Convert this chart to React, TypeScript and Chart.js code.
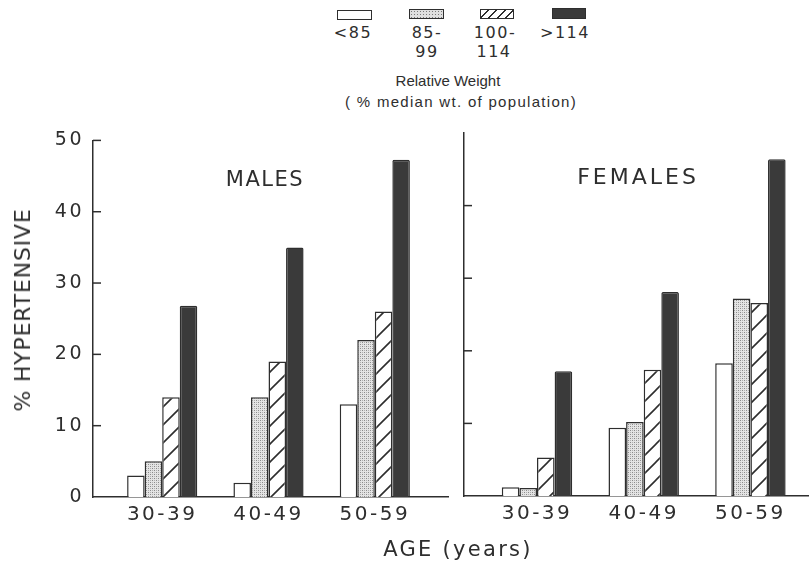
import React, { useEffect, useRef } from "react";
import { Chart, registerables } from "chart.js";

Chart.register(...registerables);

// ---- data ----
const ageGroups = ["30-39", "40-49", "50-59"];
const weightGroups = ["<85", "85-99", "100-114", ">114"];
const maleUnder85 = [3, 2, 13];
const male85to99 = [5, 14, 22];
const male100to114 = [14, 19, 26];
const maleOver114 = [26.8, 35, 47.3];
const femaleUnder85 = [1.2, 9.4, 18.3];
const female85to99 = [1.1, 10.2, 27.2];
const female100to114 = [5.3, 17.4, 26.6];
const femaleOver114 = [17.2, 28.1, 46.4];
const yMin = 0;
const yMax = 50;
const yStep = 10;

const INK = "#2e2e2e";
const DARK = "#3a3a3a";

function makeStipple(): CanvasPattern | string {
  const c = document.createElement("canvas");
  c.width = 4;
  c.height = 4;
  const g = c.getContext("2d");
  if (!g) return "#cccccc";
  g.fillStyle = "#e4e4e4";
  g.fillRect(0, 0, 4, 4);
  g.fillStyle = "#8a8a8a";
  g.fillRect(0, 0, 1, 1);
  g.fillRect(2, 2, 1, 1);
  g.fillStyle = "#b0b0b0";
  g.fillRect(2, 0, 1, 1);
  g.fillRect(0, 2, 1, 1);
  return g.createPattern(c, "repeat") || "#cccccc";
}

function makeHatch(): CanvasPattern | string {
  const s = 18;
  const c = document.createElement("canvas");
  c.width = s;
  c.height = s;
  const g = c.getContext("2d");
  if (!g) return "#ffffff";
  g.fillStyle = "#ffffff";
  g.fillRect(0, 0, s, s);
  g.strokeStyle = INK;
  g.lineWidth = 1.6;
  g.beginPath();
  g.moveTo(0, s);
  g.lineTo(s, 0);
  g.moveTo(-2, 2);
  g.lineTo(2, -2);
  g.moveTo(s - 2, s + 2);
  g.lineTo(s + 2, s - 2);
  g.stroke();
  return g.createPattern(c, "repeat") || "#ffffff";
}

const spacingPlugin = {
  id: "spacing",
  beforeDraw(chart: any) {
    (chart.ctx as any).letterSpacing = "2.5px";
  },
};

const innerTicks = {
  id: "innerTicks",
  afterDraw(chart: any, _args: any, opts: any) {
    const y = chart.scales.y;
    const left = chart.chartArea.left;
    const ctx = chart.ctx;
    ctx.save();
    ctx.strokeStyle = INK;
    ctx.lineWidth = 1.5;
    y.ticks.forEach((t: any) => {
      if (t.value === yMin) return;
      if (opts && opts.skip && opts.skip.includes(t.value)) return;
      const py = y.getPixelForValue(t.value);
      ctx.beginPath();
      ctx.moveTo(left, py);
      ctx.lineTo(left + 8, py);
      ctx.stroke();
    });
    ctx.restore();
  },
};

function buildConfig(
  series: number[][],
  fills: any[],
  xMin: number,
  xMax: number,
  yWidth: number,
  xHeight: number,
  showYLabels: boolean,
  skip: number[]
): any {
  return {
    type: "bar",
    data: {
      datasets: series.map((vals, k) => ({
        label: weightGroups[k],
        data: vals.map((v, i) => ({ x: i + 1, y: v })),
        backgroundColor: fills[k],
        borderColor: INK,
        borderWidth: 1.5,
        borderSkipped: "bottom",
        borderRadius: k === 3 ? 1.5 : 0,
        categoryPercentage: 0.66,
        barPercentage: 1,
      })),
    },
    options: {
      animation: false,
      responsive: true,
      maintainAspectRatio: false,
      events: [],
      layout: { padding: { top: 13, left: 0, right: 0, bottom: 0 } },
      plugins: {
        legend: { display: false },
        tooltip: { enabled: false },
        innerTicks: { skip },
      },
      scales: {
        x: {
          type: "linear",
          min: xMin,
          max: xMax,
          bounds: "data",
          offset: false,
          grid: { display: false, drawTicks: false, offset: false },
          border: { display: true, color: INK, width: 1.5 },
          afterBuildTicks: (s: any) => {
            s.ticks = ageGroups.map((_, i) => ({ value: i + 1 }));
          },
          afterFit: (s: any) => {
            s.height = xHeight;
          },
          ticks: {
            autoSkip: false,
            maxRotation: 0,
            minRotation: 0,
            padding: 6,
            color: INK,
            font: { family: "DejaVu Sans", size: 20 },
            callback: (_v: any, i: number) => ageGroups[i],
          },
        },
        y: {
          min: yMin,
          max: yMax,
          grid: { display: false, drawTicks: false },
          border: { display: true, color: INK, width: 1.5 },
          afterFit: (s: any) => {
            s.width = yWidth;
          },
          ticks: {
            display: showYLabels,
            stepSize: yStep,
            padding: 9,
            color: INK,
            font: { family: "DejaVu Sans", size: 19 },
          },
        },
      },
    },
    plugins: [spacingPlugin, innerTicks],
  };
}

function Txt(props: {
  x: number;
  y: number;
  size: number;
  family?: string;
  spacing?: number;
  rotate?: boolean;
  children: React.ReactNode;
}) {
  const { x, y, size, family, spacing, rotate, children } = props;
  return (
    <div
      style={{
        position: "absolute",
        left: x,
        top: y,
        transform: `translate(-50%, -50%)${rotate ? " rotate(-90deg)" : ""}`,
        fontSize: size,
        fontFamily: family || "'DejaVu Sans'",
        letterSpacing: spacing ? `${spacing}px` : undefined,
        whiteSpace: "nowrap",
        lineHeight: 1,
        color: INK,
      }}
    >
      {children}
    </div>
  );
}

const boxBase: React.CSSProperties = {
  position: "absolute",
  boxSizing: "border-box",
  border: `1.5px solid ${INK}`,
  height: 10,
  width: 35,
};

export default function App() {
  const leftRef = useRef<HTMLCanvasElement>(null);
  const rightRef = useRef<HTMLCanvasElement>(null);

  useEffect(() => {
    const fills = ["#ffffff", makeStipple(), makeHatch(), DARK];
    const left = new Chart(
      leftRef.current as HTMLCanvasElement,
      buildConfig(
        [maleUnder85, male85to99, male100to114, maleOver114],
        fills,
        0.349,
        3.698,
        93,
        43,
        true,
        []
      )
    );
    const right = new Chart(
      rightRef.current as HTMLCanvasElement,
      buildConfig(
        [femaleUnder85, female85to99, female100to114, femaleOver114],
        fills,
        0.316,
        3.549,
        24,
        44,
        false,
        [50]
      )
    );
    return () => {
      left.destroy();
      right.destroy();
    };
  }, []);

  return (
    <div
      style={{
        position: "absolute",
        left: 0,
        top: 0,
        width: 809,
        height: 563,
        background: "#ffffff",
        overflow: "hidden",
      }}
    >
      <div style={{ position: "absolute", left: 0, top: 120, width: 449, height: 420 }}>
        <canvas ref={leftRef} />
      </div>
      <div style={{ position: "absolute", left: 440, top: 120, width: 369, height: 420 }}>
        <canvas ref={rightRef} />
      </div>

      {/* legend */}
      <div style={{ ...boxBase, left: 337, top: 10, background: "#ffffff" }} />
      <div
        style={{
          ...boxBase,
          left: 409,
          top: 9,
          backgroundColor: "#e0e0e0",
          backgroundImage: "radial-gradient(#7a7a7a 0.7px, transparent 0.9px)",
          backgroundSize: "3px 3px",
        }}
      />
      <div
        style={{
          ...boxBase,
          left: 480,
          top: 9,
          width: 34,
          backgroundImage: `repeating-linear-gradient(135deg, #ffffff 0px, #ffffff 4.5px, ${INK} 4.5px, ${INK} 6px)`,
        }}
      />
      <div style={{ ...boxBase, left: 552, top: 8, width: 34, height: 11, background: DARK }} />

      <Txt x={353} y={33} size={16} spacing={1.5}>{"<85"}</Txt>
      <Txt x={427} y={33} size={16} spacing={1.5}>85-</Txt>
      <Txt x={427} y={52} size={16} spacing={1.5}>99</Txt>
      <Txt x={495} y={33} size={16} spacing={1.5}>100-</Txt>
      <Txt x={494} y={52} size={16} spacing={1.5}>114</Txt>
      <Txt x={565} y={33} size={16} spacing={1.5}>{">114"}</Txt>
      <Txt x={448} y={80} size={15} family="'Liberation Sans'">Relative Weight</Txt>
      <Txt x={461} y={101} size={15} family="'Liberation Sans'" spacing={1.3}>( % median wt. of population)</Txt>

      <Txt x={265} y={179} size={21} spacing={1.5}>MALES</Txt>
      <Txt x={638} y={177} size={22} spacing={3}>FEMALES</Txt>

      <Txt x={23} y={310} size={22} spacing={0.8} rotate>% HYPERTENSIVE</Txt>
      <Txt x={458} y={549} size={21} spacing={2.3}>AGE (years)</Txt>
    </div>
  );
}
